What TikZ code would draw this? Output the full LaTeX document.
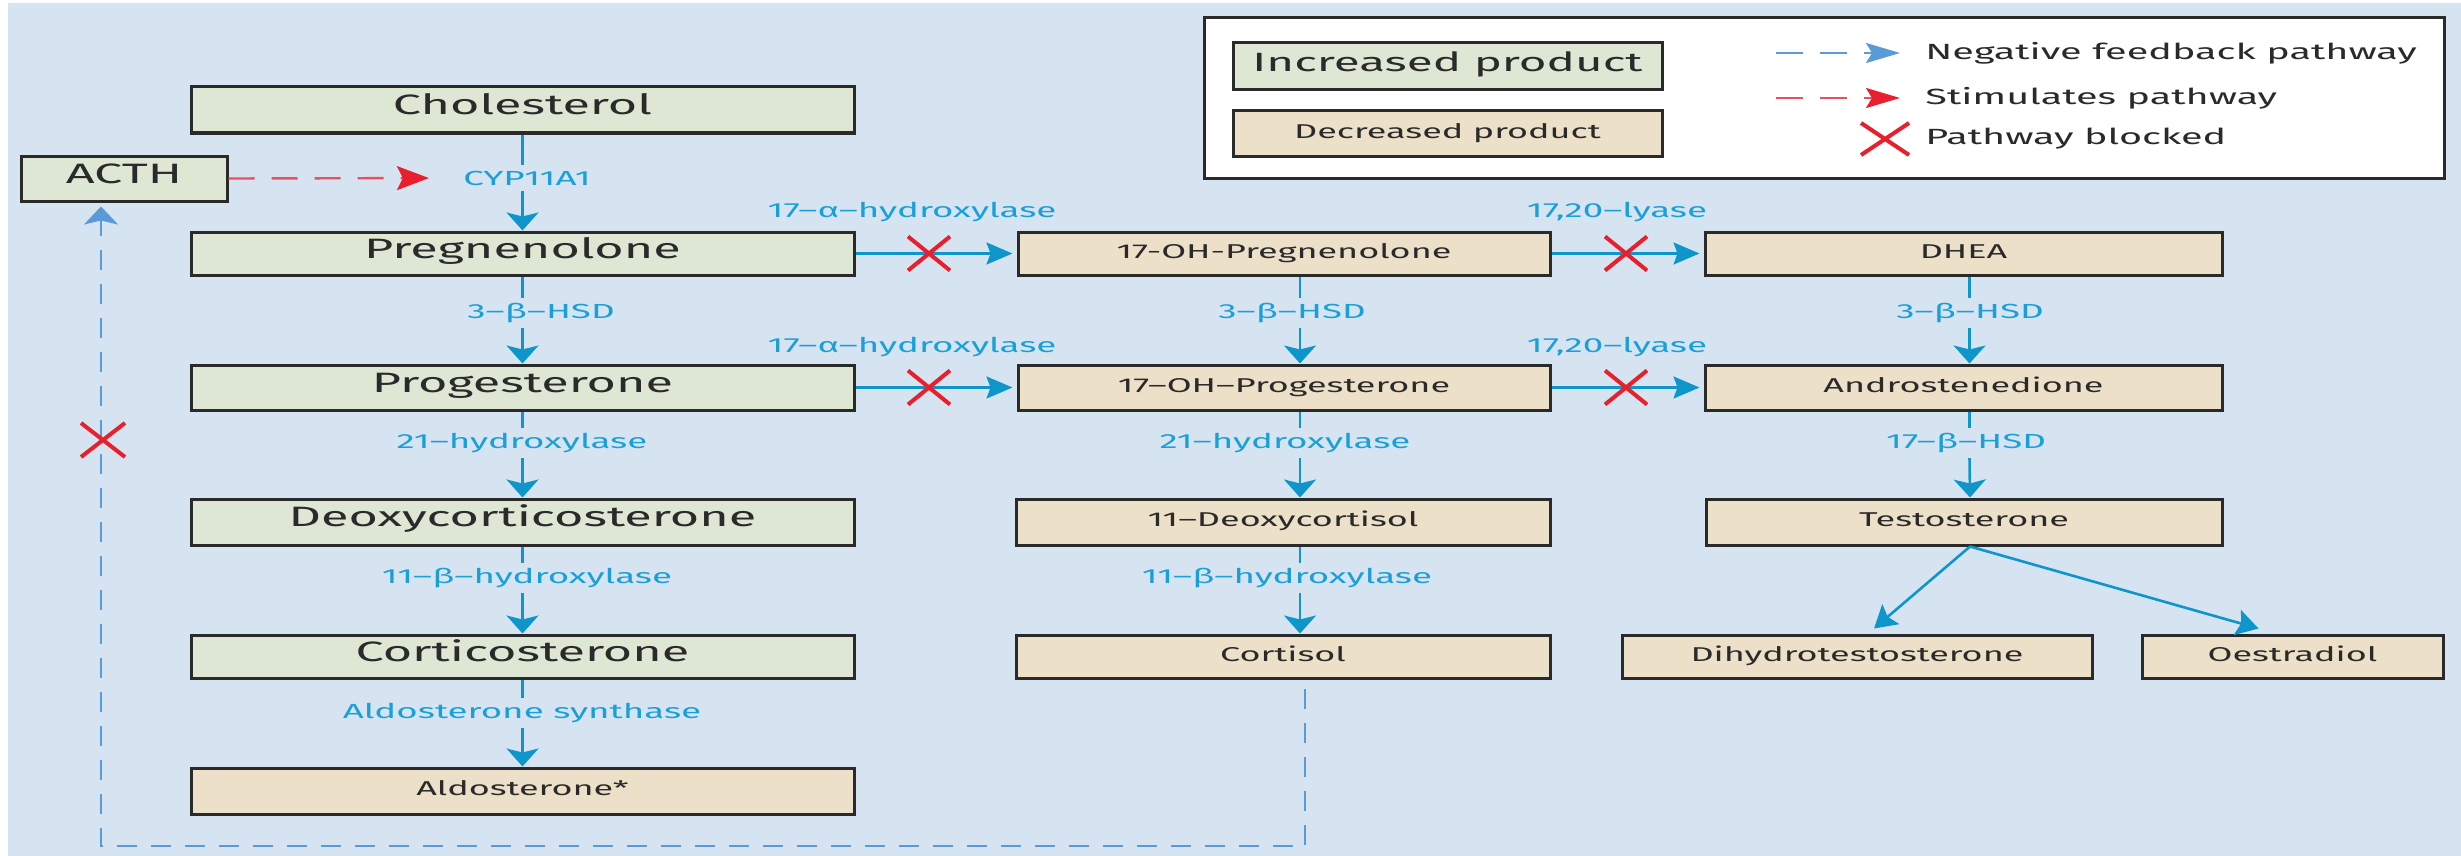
\documentclass[tikz,border=0pt]{standalone}
\usepackage{fontspec}
\setmainfont{Fira Sans}[FakeStretch=1.8]
\usetikzlibrary{arrows.meta,calc,shapes.misc}
\definecolor{bgblue}{HTML}{D6E4F1}
\definecolor{grn}{HTML}{DEE6D4}
\definecolor{bei}{HTML}{EDE0C8}
\definecolor{flow}{HTML}{0E96CB}
\definecolor{lab}{HTML}{1AA0D8}
\definecolor{xred}{HTML}{E8202D}
\definecolor{sred}{HTML}{E9505C}
\definecolor{fblue}{HTML}{5A9AD6}
\definecolor{ink}{HTML}{2A2A2A}
\newcommand\fbig{\fontsize{14pt}{16pt}\selectfont}
\newcommand\fsmall{\fontsize{10pt}{12pt}\selectfont}
\newcommand\flab{\fontsize{10.2pt}{12pt}\selectfont}
\newcommand\fleg{\fontsize{11pt}{13pt}\selectfont}
\newcommand\flegbig{\fontsize{13.2pt}{15pt}\selectfont}
\begin{document}
\begin{tikzpicture}[x=0.5pt,y=-0.5pt,
  every node/.style={inner sep=0pt},
  gbox/.style={draw=ink, line width=1.5pt, fill=grn, text=ink, font=\fbig, minimum width=331.5pt, text height=0.7em, text depth=0.24em},
  bbox/.style={draw=ink, line width=1.5pt, fill=bei, text=ink, font=\fsmall, text height=0.7em, text depth=0.24em},
  enz/.style={text=lab, font=\flab, inner sep=2.5pt},
  flowline/.style={draw=flow, line width=1.3pt},
  vflow/.style={flowline, -{Stealth[length=9pt,width=16pt,inset=2pt]}},
  hflow/.style={flowline, -{Stealth[length=13pt,width=11pt,inset=2pt]}},
  dflow/.style={flowline, -{Stealth[length=11pt,width=13pt,inset=2pt]}},
  blocked/.style={cross out, draw=xred, line width=2pt, minimum width=19pt, minimum height=15pt},
  fback/.style={draw=fblue, line width=1.2pt, dash pattern=on 10pt off 7pt},
  stim/.style={draw=sred, line width=1.2pt, dash pattern=on 13pt off 8.5pt},
  legtext/.style={anchor=west, font=\fleg, text=ink},
]
\useasboundingbox (0,0) rectangle (2461,856);
\fill[bgblue] (8,3) rectangle (2461,856);

% legend
\node[draw=ink, line width=1.5pt, fill=white, minimum width=620pt, minimum height=80pt] (legend) at (1824,98) {};
\node[gbox, minimum width=214.5pt, minimum height=23.5pt, font=\flegbig] (incr) at (1447.5,66.5) {Increased product};
\node[bbox, minimum width=214.5pt, minimum height=22.5pt] (decr) at (1447.5,133.5) {Decreased product};
\coordinate (nfa) at (1776,53); \coordinate (nfb) at (1900,53);
\coordinate (spa) at (1776,98); \coordinate (spb) at (1900,98);
\draw[fback, dash pattern=on 13.5pt off 8.5pt, -{Stealth[length=17pt,width=10pt,inset=3pt]}] (nfa) -- (nfb);
\draw[stim, dash pattern=on 13.5pt off 8.5pt, -{Stealth[length=17pt,width=10pt,inset=3pt,color=xred]}] (spa) -- (spb);
\node[blocked, minimum width=22pt, minimum height=14pt] (lx) at (1885,139) {};
\node[legtext] (nft) at (1925,53) {Negative feedback pathway};
\node[legtext] (spt) at (1925,98) {Stimulates pathway};
\node[legtext] (pbt) at (1925,139) {Pathway blocked};

% left column
\node[gbox, minimum height=23pt] (chol) at (522.5,110) {Cholesterol};
\node[gbox, minimum width=103pt, minimum height=22.5pt] (acth) at (124,178.5) {ACTH};
\node[gbox, minimum height=21.5pt] (preg) at (522.5,253.5) {Pregnenolone};
\node[gbox, minimum height=22.5pt] (prog) at (522.5,387.5) {Progesterone};
\node[gbox, minimum height=23pt] (doc) at (522.5,522) {Deoxycorticosterone};
\node[gbox, minimum height=21.5pt] (cort) at (522.5,656.5) {Corticosterone};
\node[bbox, minimum width=331.5pt, minimum height=23pt] (aldo) at (522.5,791) {Aldosterone*};

% middle column
\node[bbox, minimum width=266pt, minimum height=21.5pt] (ohpreg) at (1284,253.5) {17-OH-Pregnenolone};
\node[bbox, minimum width=266pt, minimum height=22.5pt] (ohprog) at (1284,387.5) {17–OH–Progesterone};
\node[bbox, minimum width=267pt, minimum height=23pt] (deox) at (1283,522) {11–Deoxycortisol};
\node[bbox, minimum width=267pt, minimum height=21.5pt] (cortisol) at (1283,656.5) {Cortisol};

% right column
\node[bbox, minimum width=258.5pt, minimum height=21.5pt] (dhea) at (1963.5,253.5) {DHEA};
\node[bbox, minimum width=258.5pt, minimum height=22.5pt] (andro) at (1963.5,387.5) {Androstenedione};
\node[bbox, minimum width=258pt, minimum height=23pt] (testo) at (1964,522) {Testosterone};
\node[bbox, minimum width=235pt, minimum height=21.5pt] (dht) at (1857,656.5) {Dihydrotestosterone};
\node[bbox, minimum width=150.5pt, minimum height=21.5pt] (oest) at (2292.5,656.5) {Oestradiol};

% enzyme labels
\node[enz] (cyp) at (527,178) {CYP11A1};
\node[enz] (hsdl) at (541,313) {3–β–HSD};
\node[enz] (ohl) at (522,443) {21–hydroxylase};
\node[enz] (bhl) at (527,578) {11–β–hydroxylase};
\node[enz] (als) at (522,713) {Aldosterone synthase};
\node[enz] (hsdm) at (1292,313) {3–β–HSD};
\node[enz] (ohm) at (1285,443) {21–hydroxylase};
\node[enz] (bhm) at (1287,578) {11–β–hydroxylase};
\node[enz] (hsdr) at (1970,313) {3–β–HSD};
\node[enz] (bhsd) at (1966,443) {17–β–HSD};
\node[enz] (ahyd1) at (912,212) {17–α–hydroxylase};
\node[enz] (ahyd2) at (912,347) {17–α–hydroxylase};
\node[enz] (lya1) at (1617,212) {17,20–lyase};
\node[enz] (lya2) at (1617,347) {17,20–lyase};

% left column flows
\draw[flowline] (chol.south) -- (chol.south |- cyp.north);
\draw[vflow] (chol.south |- cyp.south) -- (preg.north);
\draw[flowline] (preg.south) -- (preg.south |- hsdl.north);
\draw[vflow] (preg.south |- hsdl.south) -- (prog.north);
\draw[flowline] (prog.south) -- (prog.south |- ohl.north);
\draw[vflow] (prog.south |- ohl.south) -- (doc.north);
\draw[flowline] (doc.south) -- (doc.south |- bhl.north);
\draw[vflow] (doc.south |- bhl.south) -- (cort.north);
\draw[flowline] (cort.south) -- (cort.south |- als.north);
\draw[vflow] (cort.south |- als.south) -- (aldo.north);

% middle column flows
\draw[flowline] ([xshift=8pt]ohpreg.south) -- ([xshift=8pt]ohpreg.south |- hsdm.north);
\draw[vflow] ([xshift=8pt]ohpreg.south |- hsdm.south) -- ([xshift=8pt]ohprog.north);
\draw[flowline] ([xshift=8pt]ohprog.south) -- ([xshift=8pt]ohprog.south |- ohm.north);
\draw[vflow] ([xshift=8pt]ohprog.south |- ohm.south) -- ([xshift=8.5pt]deox.north);
\draw[flowline] ([xshift=8.5pt]deox.south) -- ([xshift=8.5pt]deox.south |- bhm.north);
\draw[vflow] ([xshift=8.5pt]deox.south |- bhm.south) -- ([xshift=8.5pt]cortisol.north);

% right column flows
\draw[flowline] ([xshift=3pt]dhea.south) -- ([xshift=3pt]dhea.south |- hsdr.north);
\draw[vflow] ([xshift=3pt]dhea.south |- hsdr.south) -- ([xshift=3pt]andro.north);
\draw[flowline] ([xshift=3pt]andro.south) -- ([xshift=3pt]andro.south |- bhsd.north);
\draw[vflow] ([xshift=3pt]andro.south |- bhsd.south) -- ([xshift=3pt]testo.north);
\draw[dflow] ([xshift=3pt]testo.south) -- ([shift={(17,-5)}]dht.north);
\draw[dflow] ([xshift=3pt]testo.south) -- ([shift={(-34,-5)}]oest.north);

% horizontal flows
\draw[hflow, shorten >=2pt] (preg.east) -- (ohpreg.west);
\draw[hflow, shorten >=2pt] (prog.east) -- (ohprog.west);
\draw[hflow, shorten >=2pt] (ohpreg.east) -- (dhea.west);
\draw[hflow, shorten >=2pt] (ohprog.east) -- (andro.west);
\node[blocked] (x1) at (929,253.5) {};
\node[blocked] (x2) at (929,387.5) {};
\node[blocked] (x3) at (1626,253.5) {};
\node[blocked] (x4) at (1626,387.5) {};

% ACTH stimulation
\draw[stim, -{Stealth[length=16pt,width=12pt,inset=3pt,color=xred]}, shorten >=14.5pt] (acth.east) -- (cyp.west);

% negative feedback
\coordinate (fbr) at (1305,846);
\coordinate (fbl) at (101,846);
\draw[fback, -{Stealth[length=9pt,width=17pt,inset=2pt]}, shorten >=2pt] ([yshift=-4.5pt]fbr |- cortisol.south) -- (fbr) -- (fbl) -- (fbl |- acth.south);
\node[blocked, minimum width=20pt, minimum height=15pt] (xfb) at (103,440) {};
\end{tikzpicture}
\end{document}
